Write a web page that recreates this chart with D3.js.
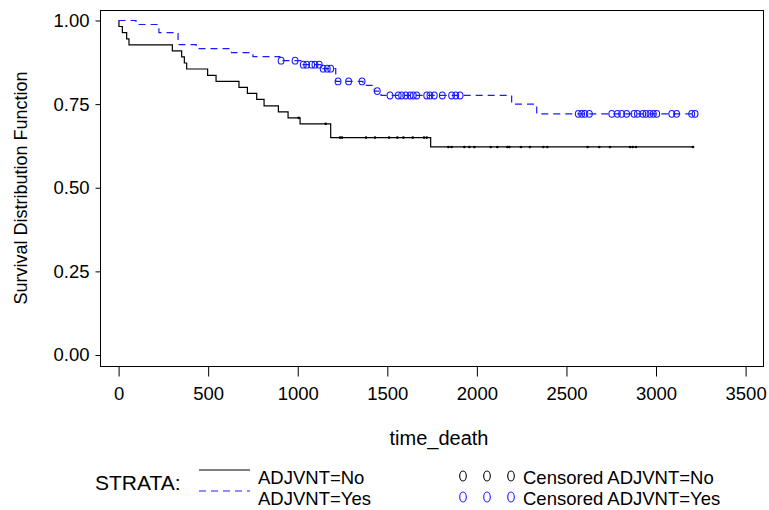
<!DOCTYPE html>
<html>
<head>
<meta charset="utf-8">
<script src="https://cdn.jsdelivr.net/npm/d3@7"></script>
<style>
  body { margin: 0; background: #fff; }
  text { font-family: "Liberation Sans", Arial, sans-serif; fill: #000; }
</style>
</head>
<body>
<div id="chart"></div>
<script>
// ADJVNT=No : event times and survival estimates after each event
var noTimes = [0, 2, 21, 45, 58, 300, 352, 367, 380, 497, 544, 672, 719, 771, 812, 892, 946, 1013, 1184, 1742];
var noSurv  = [1, 0.982, 0.964, 0.945, 0.927, 0.909, 0.891, 0.873, 0.855, 0.836, 0.818, 0.800, 0.782, 0.764, 0.745, 0.727, 0.709, 0.691, 0.650, 0.622];
var noEnd = 3214;
var noCensor = [1005, 1156, 1236, 1247, 1381, 1431, 1510, 1556, 1590, 1642, 1705, 1720,
  1841, 1859, 1930, 1958, 1986, 2077, 2114, 2170, 2181, 2246, 2296, 2371, 2393,
  2618, 2683, 2743, 2855, 2870, 2888, 3205];

// ADJVNT=Yes
var yesTimes = [0, 97, 225, 332, 433, 630, 750, 900, 1025, 1138, 1212, 1364, 1427, 1465, 2194, 2334];
var yesSurv  = [1, 0.988, 0.964, 0.928, 0.916, 0.904, 0.892, 0.880, 0.868, 0.856, 0.818, 0.806, 0.789, 0.776, 0.750, 0.721];
var yesEnd = 3220;
var yesCensor = [907, 985, 1031, 1050, 1078, 1096, 1120, 1142, 1165, 1184, 1225, 1284, 1359, 1444,
  1515, 1561, 1580, 1603, 1627, 1645, 1664, 1720, 1738, 1762, 1807, 1859, 1882, 1906,
  2566, 2585, 2603, 2628, 2753, 2784, 2808, 2836, 2877, 2896, 2926, 2944, 2966, 2985, 3004,
  3088, 3115, 3199, 3218];

var xTicks = [0, 500, 1000, 1500, 2000, 2500, 3000, 3500];
var yTicks = [0, 0.25, 0.5, 0.75, 1];

var svgWidth = 769, svgHeight = 510;
var frame = {left: 100.5, right: 763.5, top: 10.5, bottom: 366.5};

var svg = d3.select("#chart").append("svg")
  .attr("width", svgWidth)
  .attr("height", svgHeight);

var x = d3.scaleLinear().domain([0, 3500]).range([118.6, 745.6]);
var y = d3.scaleLinear().domain([0, 1]).range([355, 20.5]);

// frame
svg.append("rect")
  .attr("x", frame.left).attr("y", frame.top)
  .attr("width", frame.right - frame.left)
  .attr("height", frame.bottom - frame.top)
  .attr("fill", "none").attr("stroke", "#000").attr("stroke-width", 1);

// y axis ticks + labels
svg.append("g")
  .attr("transform", `translate(${frame.left},0)`)
  .call(d3.axisLeft(y).tickValues(yTicks).tickFormat(d3.format(".2f")).tickSize(5).tickPadding(6))
  .call(g => g.select(".domain").remove())
  .call(g => g.selectAll("text").attr("font-size", "18.5px").attr("font-family", "Liberation Sans, Arial, sans-serif"));

// x axis ticks + labels
svg.append("g")
  .attr("transform", `translate(0,${frame.bottom})`)
  .call(d3.axisBottom(x).tickValues(xTicks).tickFormat(d3.format("d")).tickSize(10).tickPadding(10))
  .call(g => g.select(".domain").remove())
  .call(g => g.selectAll("text").attr("font-size", "18.5px").attr("font-family", "Liberation Sans, Arial, sans-serif"));

// axis titles
svg.append("text")
  .attr("transform", "translate(27,188) rotate(-90)")
  .attr("text-anchor", "middle")
  .attr("font-size", "18px")
  .text("Survival Distribution Function");

svg.append("text")
  .attr("x", 439).attr("y", 445)
  .attr("text-anchor", "middle")
  .attr("font-size", "20px")
  .text("time_death");

var line = d3.line()
  .x(d => x(d[0]))
  .y(d => y(d[1]))
  .curve(d3.curveStepAfter);

function stepData(times, surv, end) {
  var pts = times.map((t, i) => [t, surv[i]]);
  pts.push([end, surv[surv.length - 1]]);
  return pts;
}

function survAt(times, surv, t) {
  return surv[d3.bisectRight(times, t) - 1];
}

// curves
svg.append("path")
  .datum(stepData(noTimes, noSurv, noEnd))
  .attr("d", line)
  .attr("fill", "none")
  .attr("stroke", "#000")
  .attr("stroke-width", 1.2);

svg.append("path")
  .datum(stepData(yesTimes, yesSurv, yesEnd))
  .attr("d", line)
  .attr("fill", "none")
  .attr("stroke", "#1a1aff")
  .attr("stroke-width", 1.2)
  .attr("stroke-dasharray", "7,5");

// censored marks
svg.append("g").selectAll("circle")
  .data(noCensor)
  .enter()
  .append("circle")
  .attr("cx", d => x(d))
  .attr("cy", d => y(survAt(noTimes, noSurv, d)))
  .attr("r", 1.3)
  .attr("fill", "#000");

svg.append("g").selectAll("ellipse")
  .data(yesCensor)
  .enter()
  .append("ellipse")
  .attr("cx", d => x(d))
  .attr("cy", d => y(survAt(yesTimes, yesSurv, d)))
  .attr("rx", 2.9)
  .attr("ry", 3.4)
  .attr("fill", "none")
  .attr("stroke", "#1a1aff")
  .attr("stroke-width", 1.1);

// legend
var legend = svg.append("g");

legend.append("text")
  .attr("x", 95).attr("y", 490)
  .attr("font-size", "21px")
  .text("STRATA:");

legend.append("line")
  .attr("x1", 199).attr("x2", 250).attr("y1", 470).attr("y2", 470)
  .attr("stroke", "#000").attr("stroke-width", 1.2);
legend.append("line")
  .attr("x1", 199).attr("x2", 250).attr("y1", 491).attr("y2", 491)
  .attr("stroke", "#6a6aff").attr("stroke-width", 1.4)
  .attr("stroke-dasharray", "7,5");

legend.append("text").attr("x", 258).attr("y", 484).attr("font-size", "18.5px").text("ADJVNT=No");
legend.append("text").attr("x", 258).attr("y", 505).attr("font-size", "18.5px").text("ADJVNT=Yes");

var legendMarks = [463, 487, 511];
legend.append("g").selectAll("ellipse")
  .data(legendMarks)
  .enter()
  .append("ellipse")
  .attr("cx", d => d).attr("cy", 476)
  .attr("rx", 3.3).attr("ry", 5)
  .attr("fill", "none").attr("stroke", "#000").attr("stroke-width", 1.1);
legend.append("g").selectAll("ellipse")
  .data(legendMarks)
  .enter()
  .append("ellipse")
  .attr("cx", d => d).attr("cy", 497)
  .attr("rx", 3.3).attr("ry", 5)
  .attr("fill", "none").attr("stroke", "#1a1aff").attr("stroke-width", 1.1);

legend.append("text").attr("x", 523).attr("y", 484).attr("font-size", "18.5px").text("Censored ADJVNT=No");
legend.append("text").attr("x", 523).attr("y", 505).attr("font-size", "18.5px").text("Censored ADJVNT=Yes");
</script>
</body>
</html>
